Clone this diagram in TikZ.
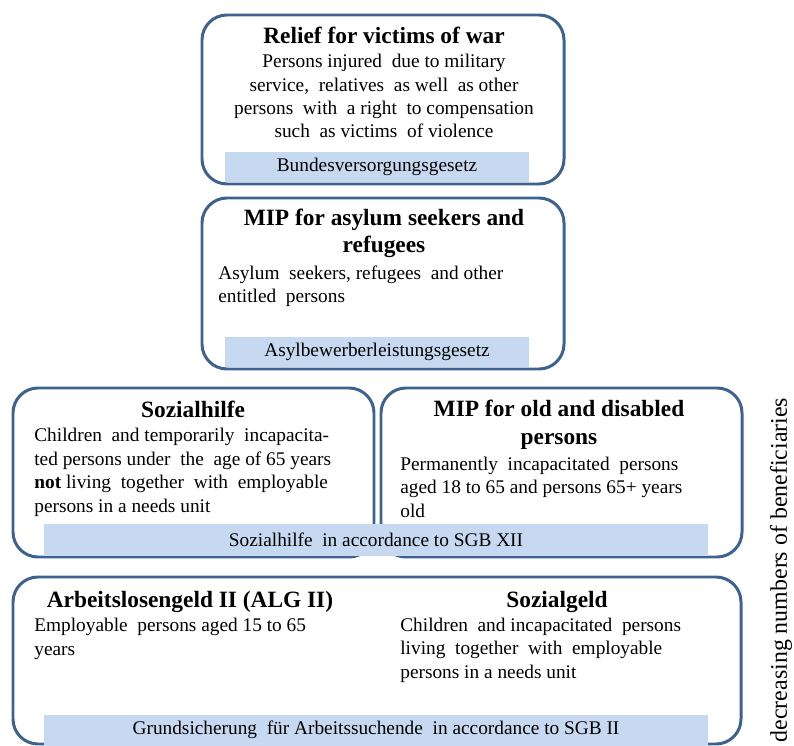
\documentclass[tikz,border=0pt]{standalone}
\usepackage{fontspec}
\setmainfont{Liberation Serif}
\definecolor{framecol}{RGB}{62,98,143}
\definecolor{barcol}{RGB}{198,217,241}
\begin{document}
\begin{tikzpicture}[x=0.02cm,y=-0.02cm,
    frame/.style={draw=framecol,line width=1.7pt,rounded corners=0.5cm},
    lawbar/.style={fill=barcol,inner sep=0pt,minimum height=0.6cm,font=\fontsize{11}{13}\selectfont},
    heading/.style={font=\fontsize{13.3}{15.9}\selectfont\bfseries,align=center,inner sep=0pt,anchor=base},
    bodytext/.style={font=\fontsize{11}{13.3}\selectfont,inner sep=0pt,anchor=base west,align=left}]
    \useasboundingbox (0,0) rectangle (794,746);
    % frames
    \draw [frame] (202,15) rectangle (564,184);
    \draw [frame] (202,198) rectangle (564,369);
    \draw [frame] (13,388) rectangle (374,557);
    \draw [frame] (381,388) rectangle (742,557);
    \draw [frame] (13,577) rectangle (741,744);
    % laws
    \node [lawbar,minimum width=6.08cm] (bvg) at (377,167) {Bundesversorgungsgesetz};
    \node [lawbar,minimum width=6.08cm] (asyl) at (377,352) {Asylbewerberleistungsgesetz};
    \node [lawbar,minimum width=13.28cm,minimum height=0.64cm] (sgb12) at (376,540) {Sozialhilfe\ \ in\ accordance to SGB XII};
    \node [lawbar,minimum width=13.28cm,minimum height=0.62cm] (sgb2) at (376,730) {Grundsicherung\ \ für\ Arbeitssuchende\ \ in accordance to SGB II};
    % relief for victims of war (multi-line nodes sit on their last line)
    \node [heading] (warT) at (384,44) {Relief for victims of war};
    \node [bodytext,anchor=base,align=center] (warB) at (384,138) {Persons injured\ \ due to military\\service,\ \ relatives\ \ as well\ \ as other\\persons\ \ with\ \ a right\ \ to compensation\\such\ \ as victims\ \ of violence};
    % asylum seekers
    \node [heading] (asylT) at (384,253) {MIP for asylum seekers and\\refugees};
    \node [bodytext] (asylB) at (218,303) {Asylum\ \ seekers, refugees\ \ and other\\entitled\ \ persons};
    % sozialhilfe
    \node [heading] (shT) at (193,417) {Sozialhilfe};
    \node [bodytext] (shB) at (34,512) {Children\ \ and temporarily\ \ incapacita-\\ted persons under\ \ the\ \ age of 65 years\\\textbf{not} living\ \ together\ \ with\ \ employable\\persons\ in\ a needs\ unit};
    % old and disabled
    \node [heading] (oldT) at (559,444) {MIP for old and disabled\\persons};
    \node [bodytext] (oldB) at (400,517) {Permanently\ \ incapacitated\ \ persons\\aged 18 to 65 and persons\ 65+ years\\old};
    % ALG II and Sozialgeld
    \node [heading] (algT) at (190,607) {Arbeitslosengeld II (ALG II)};
    \node [bodytext] (algB) at (34,655) {Employable\ \ persons aged\ 15 to 65\\years};
    \node [heading] (sgT) at (557,607) {Sozialgeld};
    \node [bodytext] (sgB) at (400,678) {Children\ \ and incapacitated\ \ persons\\living\ \ together\ \ with\ \ employable\\persons\ in\ a needs\ unit};
    % side note
    \node [rotate=90,font=\fontsize{13.6}{16}\selectfont,inner sep=0pt] (note) at (781,570) {decreasing numbers of beneficiaries};
\end{tikzpicture}
\end{document}
